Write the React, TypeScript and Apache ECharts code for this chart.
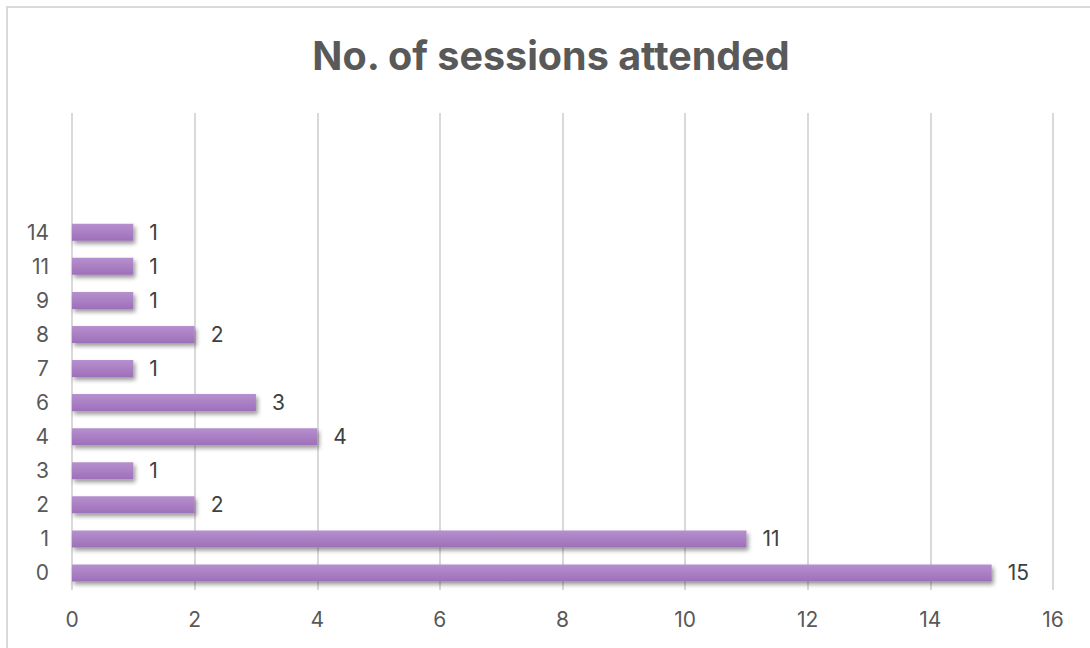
import React, { useEffect, useRef } from "react";
import * as echarts from "echarts";

const categories = ["0", "1", "2", "3", "4", "6", "7", "8", "9", "11", "14", "", "", ""];
const values: (number | null)[] = [15, 11, 2, 1, 4, 3, 1, 2, 1, 1, 1, null, null, null];
const xTicks = { min: 0, max: 16, interval: 2 };
const title = "No. of sessions attended";
const FONT = "Inter";

export default function App() {
  const ref = useRef<HTMLDivElement>(null);
  useEffect(() => {
    const chart = echarts.init(ref.current!, null, { renderer: "svg" });
    chart.setOption({
      animation: false,
      backgroundColor: "#ffffff",
      title: {
        text: title,
        top: 31,
        left: 546,
        textAlign: "center",
        textStyle: { fontFamily: FONT, fontWeight: "bold", fontSize: 39.5, color: "#595959" },
      },
      graphic: [
        {
          type: "rect",
          shape: { x: 7, y: 7, width: 1200, height: 800 },
          style: { fill: "none", stroke: "#d9d9d9", lineWidth: 2 },
          silent: true,
        },
      ],
      grid: { left: 72, right: 37, top: 113, bottom: 58, containLabel: false },
      xAxis: {
        type: "value",
        min: xTicks.min,
        max: xTicks.max,
        interval: xTicks.interval,
        axisLine: { show: false },
        axisTick: { show: false },
        splitLine: { show: true, lineStyle: { color: "#d9d9d9", width: 2 } },
        axisLabel: { color: "#595959", fontFamily: FONT, fontSize: 21, margin: 19 },
      },
      yAxis: {
        type: "category",
        data: categories,
        axisLine: { show: false },
        axisTick: { show: false },
        axisLabel: { color: "#595959", fontFamily: FONT, fontSize: 21, margin: 23 },
      },
      series: [
        {
          type: "bar",
          data: values,
          barCategoryGap: "50%",
          itemStyle: {
            color: new echarts.graphic.LinearGradient(0, 0, 0, 1, [
              { offset: 0, color: "#b690ce" },
              { offset: 1, color: "#9e6fb9" },
            ]),
            shadowColor: "rgba(0,0,0,0.4)",
            shadowBlur: 4,
            shadowOffsetX: 2,
            shadowOffsetY: 3,
          },
          label: {
            show: true,
            position: "right",
            distance: 16,
            color: "#404040",
            fontFamily: FONT,
            fontSize: 21,
          },
        },
      ],
    });
    return () => chart.dispose();
  }, []);
  return (
    <div
      ref={ref}
      style={{ position: "fixed", left: 0, top: 0, width: 1090, height: 648 }}
    />
  );
}
